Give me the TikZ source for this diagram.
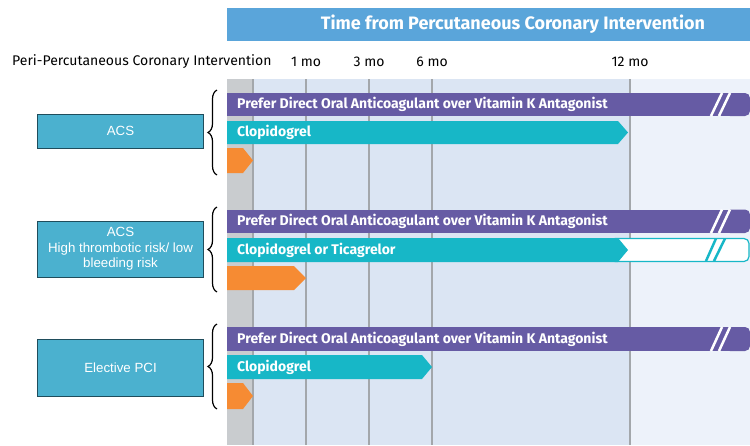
\documentclass[tikz,border=0pt]{standalone}
\usepackage{fontspec}
\setmainfont{Fira Sans}
\newfontfamily\boxfont{Liberation Sans}
\usetikzlibrary{decorations.pathreplacing}

\definecolor{headblue}{HTML}{5AA5DA}
\definecolor{ddpurple}{HTML}{665BA4}
\definecolor{ddteal}{HTML}{17B7C7}
\definecolor{periorange}{HTML}{F68B33}
\definecolor{pcigray}{HTML}{C9CCCF}
\definecolor{earlyblue}{HTML}{DBE5F3}
\definecolor{lateblue}{HTML}{EDF2FA}
\definecolor{gridgray}{HTML}{A3A7AB}
\definecolor{boxblue}{HTML}{4BB1CF}
\definecolor{boxedge}{HTML}{1F4D5C}

\begin{document}
\begin{tikzpicture}[x=1pt, y=-1pt,
  bartext/.style={anchor=west, text=white, inner sep=0pt,
    font=\bfseries\fontsize{14}{16}\selectfont},
  timelabel/.style={font=\fontsize{14}{16}\selectfont, inner sep=0pt},
  grpbox/.style={draw=boxedge, line width=1pt, fill=boxblue, text=white,
    font=\boxfont\fontsize{13.3}{15.5}\selectfont, align=center,
    minimum width=166pt, inner sep=2pt},
  grpbrace/.style={draw=black, decorate, decoration={brace, amplitude=9pt},
    line width=1.2pt},
  barslash/.style={line width=2.5pt}]
\useasboundingbox (0,0) rectangle (750,445);

% time axis background
\fill[lateblue] (630,79) rectangle (750,445);
\fill[earlyblue] (253,79) rectangle (630,445);
\fill[pcigray] (227,79) rectangle (253,445);
\foreach \x in {253,306,369,432,630}
  \draw[gridgray, line width=1.5pt] (\x,79) -- (\x,445);

% header
\fill[headblue] (227,8) rectangle (750,41);
\node[text=white, font=\bfseries\fontsize{18}{20}\selectfont] (title) at (513,24.5)
  {Time from Percutaneous Coronary Intervention};

\node[timelabel, anchor=west] (peri) at (12,62) {Peri-Percutaneous Coronary Intervention};
\node[timelabel] (m1) at (306,62) {1 mo};
\node[timelabel] (m3) at (369,62) {3 mo};
\node[timelabel] (m6) at (432,62) {6 mo};
\node[timelabel] (m12) at (630,62) {12 mo};

% purple bars, one per group
\foreach \t/\b in {93/116, 209.5/233, 327/351} {
  \fill[ddpurple] (227,\t) rectangle (740,\b);
  \fill[ddpurple, rounded corners=5pt] (725,\t) rectangle (750,\b);
  \draw[white, barslash] (711,\b) -- (722,\t);
  \draw[white, barslash] (719,\b) -- (730,\t);
}

% ACS
\fill[ddteal] (227,121) -- (618,121) -- (628,132.5) -- (618,144) -- (227,144) -- cycle;
\fill[periorange] (227,148) -- (243,148) -- (253,160.5) -- (243,173) -- (227,173) -- cycle;
\node[bartext] (doac1) at (237,104.5) {Prefer Direct Oral Anticoagulant over Vitamin K Antagonist};
\node[bartext] (clop1) at (237,132.5) {Clopidogrel};

% ACS high thrombotic risk
\filldraw[fill=white, draw=ddteal, line width=1.2pt, rounded corners=5pt]
  (610,238.5) rectangle (749,261.5);
\draw[ddteal, barslash] (706,261) -- (716,238.5);
\draw[ddteal, barslash] (714,261) -- (725,238.5);
\fill[ddteal] (227,238) -- (618,238) -- (628,250) -- (618,262) -- (227,262) -- cycle;
\fill[periorange] (227,266) -- (294,266) -- (306,278) -- (294,290) -- (227,290) -- cycle;
\node[bartext] (doac2) at (237,221) {Prefer Direct Oral Anticoagulant over Vitamin K Antagonist};
\node[bartext] (clop2) at (237,250) {Clopidogrel or Ticagrelor};

% elective
\fill[ddteal] (227,355) -- (422,355) -- (432,367) -- (422,379) -- (227,379) -- cycle;
\fill[periorange] (227,383) -- (243,383) -- (253,396) -- (243,409) -- (227,409) -- cycle;
\node[bartext] (doac3) at (237,339) {Prefer Direct Oral Anticoagulant over Vitamin K Antagonist};
\node[bartext] (clop3) at (237,367) {Clopidogrel};

% groups
\node[grpbox, minimum height=34pt] (acs) at (120.5,131) {ACS};
\node[grpbox, minimum height=56pt] (acshigh) at (120.5,249)
  {ACS\\High thrombotic risk/ low\\bleeding risk};
\node[grpbox, minimum height=57pt] (elect) at (120.5,367.5) {Elective PCI};

\draw[grpbrace] (217,175) -- (217,90);
\draw[grpbrace] (217,292) -- (217,207);
\draw[grpbrace] (217,409) -- (217,324);
\end{tikzpicture}
\end{document}
